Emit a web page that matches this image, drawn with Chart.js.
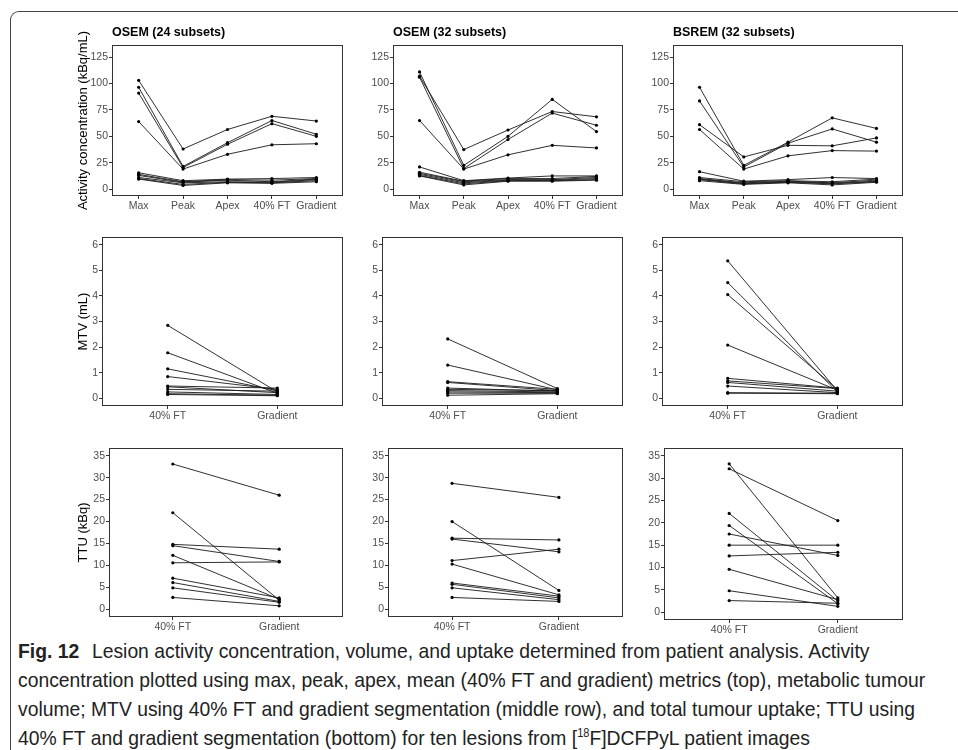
<!DOCTYPE html>
<html>
<head>
<meta charset="utf-8">
<script src="https://cdn.jsdelivr.net/npm/chart.js@4"></script>
<style>
  body { margin: 0; background: #fff; }
  #fig { position: relative; width: 958px; height: 750px; overflow: hidden; background: #fff; }
  #frame { position: absolute; left: 10px; top: 11px; width: 960px; height: 760px;
           border-top: 1px solid #444; border-left: 1px solid #444; border-top-left-radius: 9px; }
  canvas { position: absolute; }
  #caption { position: absolute; left: 18px; top: 636px; font-family: "Liberation Sans", Arial, sans-serif;
             font-size: 21px; line-height: 29px; color: #222; white-space: nowrap;
             transform: scaleX(0.92); transform-origin: 0 0; }
  #caption b { font-weight: bold; margin-right: 8px; }
  #caption sup { font-size: 12px; vertical-align: 8px; line-height: 0; }
</style>
</head>
<body>
<div id="fig">
  <div id="frame"></div>
  <div id="caption">
    <b>Fig. 12</b> Lesion activity concentration, volume, and uptake determined from patient analysis. Activity<br>
    concentration plotted using max, peak, apex, mean (40% FT and gradient) metrics (top), metabolic tumour<br>
    volume; MTV using 40% FT and gradient segmentation (middle row), and total tumour uptake; TTU using<br>
    40% FT and gradient segmentation (bottom) for ten lesions from [<sup>18</sup>F]DCFPyL patient images
  </div>
</div>
<script>
// categories
const activityMetrics = ['Max', 'Peak', 'Apex', '40% FT', 'Gradient'];
const segMethods = ['40% FT', 'Gradient'];
const panelTitles = ['OSEM (24 subsets)', 'OSEM (32 subsets)', 'BSREM (32 subsets)'];

// tick labels
const acTicks = [0, 25, 50, 75, 100, 125];
const mtvTicks = [0, 1, 2, 3, 4, 5, 6];
const ttuTicks = [0, 5, 10, 15, 20, 25, 30, 35];

// activity concentration (kBq/mL), one row per lesion: Max, Peak, Apex, 40% FT, Gradient
const acOsem24 = [
  [103, 38, 56.5, 69, 64.5],
  [96.5, 21.5, 44, 65, 52],
  [91, 20.5, 42.5, 62, 50],
  [64, 19, 33, 42, 43],
  [15.5, 8, 9.5, 10, 11],
  [14, 7, 9, 8.5, 10],
  [13, 6.5, 8.5, 7, 9.5],
  [11, 6, 7, 6.5, 9],
  [10, 4.5, 6.5, 6, 8],
  [9.5, 3.5, 6, 5.5, 7]
];
const acOsem32 = [
  [107, 37.5, 56, 73.5, 68.5],
  [111, 22.5, 50, 85, 54.5],
  [106, 19.5, 47, 72, 60.5],
  [65, 19, 32.5, 41.5, 39],
  [21, 8, 10.5, 12.5, 12.5],
  [16, 7.5, 10, 10, 12],
  [15, 7, 9, 9, 11],
  [14, 6, 8.5, 8.5, 10],
  [13, 5, 8, 8, 9],
  [12.5, 4, 7.5, 7.5, 8.5]
];
const acBsrem32 = [
  [96.5, 22.5, 44.5, 67.5, 57.5],
  [83.5, 21, 43.5, 57, 44.5],
  [61, 30.5, 41.5, 41, 48.5],
  [56.5, 19, 31.5, 36.5, 36],
  [16.5, 7.5, 9, 11, 10],
  [11, 7, 8, 7, 9.5],
  [10, 6, 7.5, 6, 8.5],
  [9.5, 5.5, 7, 5.5, 7.5],
  [9, 5, 6.5, 5, 7],
  [8, 4.5, 6, 4, 6.5]
];

// metabolic tumour volume (mL): 40% FT, Gradient
const mtvOsem24 = [[2.85, 0.25], [1.78, 0.2], [1.15, 0.3], [0.85, 0.35], [0.48, 0.4],
                   [0.45, 0.22], [0.35, 0.28], [0.25, 0.15], [0.18, 0.12], [0.15, 0.1]];
const mtvOsem32 = [[2.32, 0.38], [1.3, 0.33], [0.65, 0.35], [0.62, 0.3], [0.4, 0.28],
                   [0.35, 0.3], [0.3, 0.25], [0.25, 0.22], [0.2, 0.2], [0.12, 0.18]];
const mtvBsrem32 = [[5.37, 0.3], [4.52, 0.25], [4.05, 0.35], [2.08, 0.32], [0.78, 0.4],
                    [0.68, 0.38], [0.62, 0.28], [0.48, 0.22], [0.22, 0.2], [0.2, 0.18]];

// total tumour uptake (kBq): 40% FT, Gradient
const ttuOsem24 = [[33.1, 26], [22, 2.1], [14.8, 13.7], [14.5, 10.9], [12.3, 2.3],
                   [10.6, 10.8], [7.1, 2.6], [6.1, 1.8], [4.9, 1.6], [2.7, 0.8]];
const ttuOsem32 = [[28.7, 25.5], [20, 4.3], [16.2, 15.8], [16, 13.1], [11.1, 13.7],
                   [10.3, 3.3], [6, 3], [5.7, 2.6], [4.9, 2.2], [2.7, 1.8]];
const ttuBsrem32 = [[33.2, 3.2], [32.1, 20.5], [22.1, 2.5], [19.4, 1.9], [17.5, 12.7],
                    [15, 15], [12.6, 13.4], [9.6, 2.8], [4.8, 1.3], [2.6, 2.0]];

const FONT = '"Liberation Sans", Arial, sans-serif';
Chart.defaults.font.family = FONT;

// draws the grey panel border round the plot area
const panelBox = {
  id: 'panelBox',
  afterDraw(chart) {
    const a = chart.chartArea, ctx = chart.ctx;
    ctx.save();
    ctx.strokeStyle = '#333';
    ctx.lineWidth = 1;
    ctx.strokeRect(Math.round(a.left) + 0.5, Math.round(a.top) + 0.5,
                   Math.round(a.right - a.left) - 1, Math.round(a.bottom - a.top) - 1);
    ctx.restore();
  }
};

function makePanel(p) {
  const xAxisH = 19;
  const cv = document.createElement('canvas');
  const w = p.r + 2 - p.cl;
  const h = p.b + xAxisH - p.ct;
  cv.width = w; cv.height = h;
  cv.style.left = p.cl + 'px';
  cv.style.top = p.ct + 'px';
  document.getElementById('fig').appendChild(cv);

  const titleSize = 12.5, titleLH = titleSize * 1.2;
  let titleOpts = { display: false };
  if (p.title) {
    const padTop = 33 - p.ct - titleLH / 2;
    titleOpts = {
      display: true, text: p.title, align: 'start', fullSize: false, color: '#000',
      font: { size: titleSize, weight: 'bold' },
      padding: { top: padTop, bottom: (p.t - p.ct) - titleLH - padTop }
    };
  }
  const yTitleSize = 13;

  new Chart(cv, {
    type: 'line',
    data: {
      datasets: p.rows.map(row => ({
        data: row.map((v, i) => ({ x: i + 1, y: v })),
        borderColor: '#1a1a1a',
        borderWidth: 0.9,
        pointRadius: 1.6,
        pointBackgroundColor: '#000',
        pointBorderWidth: 0,
        tension: 0
      }))
    },
    options: {
      responsive: false,
      animation: false,
      devicePixelRatio: 1,
      layout: { padding: { top: p.title ? 0 : p.t - p.ct, right: 2, bottom: 0, left: 0 } },
      plugins: { legend: { display: false }, tooltip: { enabled: false }, title: titleOpts },
      scales: {
        x: {
          type: 'linear',
          min: 0.4,
          max: p.cats.length + 0.6,
          afterBuildTicks: s => { s.ticks = p.cats.map((c, i) => ({ value: i + 1 })); },
          afterFit: s => { s.height = xAxisH; },
          ticks: {
            callback: (v, i) => p.cats[i],
            autoSkip: false, maxRotation: 0, padding: 1,
            color: '#4d4d4d', font: { size: 10.5 }
          },
          grid: { display: true, drawOnChartArea: false, drawTicks: true, tickLength: 3, color: '#333' },
          border: { display: false }
        },
        y: {
          min: p.yMin,
          max: p.yMax,
          afterBuildTicks: s => { s.ticks = p.yTicks.map(v => ({ value: v })); },
          afterFit: s => { s.width = p.l - p.cl; },
          ticks: { padding: 1, color: '#4d4d4d', font: { size: 10.5 } },
          grid: { display: true, drawOnChartArea: false, drawTicks: true, tickLength: 3, color: '#333' },
          border: { display: false },
          title: {
            display: !!p.yTitle, text: p.yTitle || '', color: '#000',
            font: { size: yTitleSize },
            padding: { top: 83 - p.cl - yTitleSize * 0.6, bottom: 0 }
          }
        }
      }
    },
    plugins: [panelBox]
  });
}

const acData = [acOsem24, acOsem32, acBsrem32];
const mtvData = [mtvOsem24, mtvOsem32, mtvBsrem32];
const ttuData = [ttuOsem24, ttuOsem32, ttuBsrem32];

const rowDefs = [
  { data: acData, cats: activityMetrics, yTicks: acTicks, yMin: -6.5, yMax: 136.5,
    yTitle: 'Activity concentration (kBq/mL)', titles: panelTitles, ct: 20,
    lefts: [112, 393, 673], tops: [45, 45, 45], bottoms: [196, 196, 196] },
  { data: mtvData, cats: segMethods, yTicks: mtvTicks, yMin: -0.3, yMax: 6.3,
    yTitle: 'MTV (mL)', ct: 229,
    lefts: [102, 382, 662], tops: [237, 237, 237], bottoms: [406, 406, 406] },
  { data: ttuData, cats: segMethods, yTicks: ttuTicks, yMin: -1.75, yMax: 36.75,
    yTitle: 'TTU (kBq)', ct: 440,
    lefts: [109, 388, 664], tops: [448, 448, 448], bottoms: [617, 617, 620] }
];
const rights = [345, 625, 905];

rowDefs.forEach(rd => {
  for (let c = 0; c < 3; c++) {
    makePanel({
      rows: rd.data[c], cats: rd.cats, yTicks: rd.yTicks, yMin: rd.yMin, yMax: rd.yMax,
      yTitle: c === 0 ? rd.yTitle : null,
      title: rd.titles ? rd.titles[c] : null,
      l: rd.lefts[c], r: rights[c], t: rd.tops[c], b: rd.bottoms[c],
      cl: c === 0 ? 66 : rd.lefts[c] - 30, ct: rd.ct
    });
  }
});
</script>
</body>
</html>
